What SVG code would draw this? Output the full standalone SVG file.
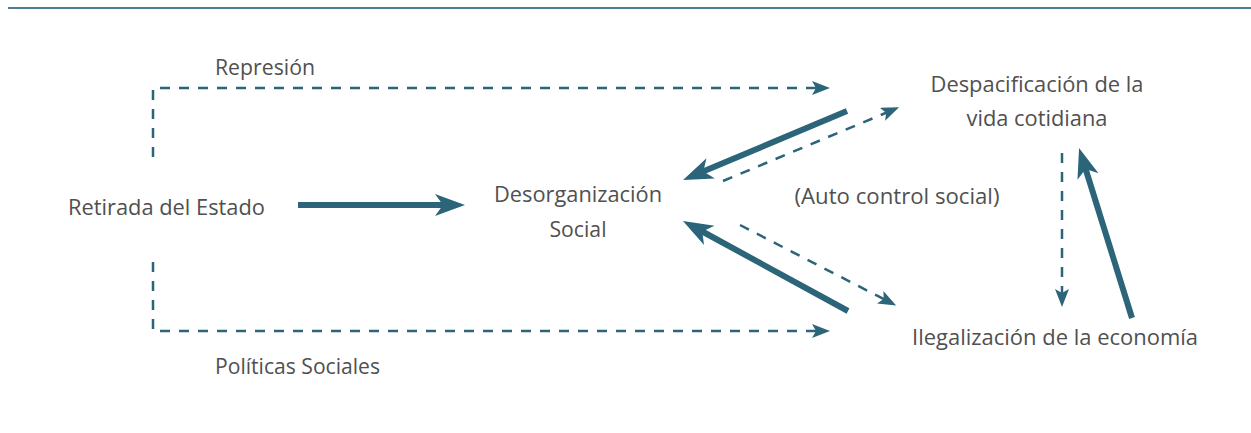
<svg xmlns="http://www.w3.org/2000/svg" width="1251" height="433" viewBox="0 0 1251 433">
<style>
.t{font-family:"Open Sans","Liberation Sans",sans-serif;font-size:21px;fill:#505050}
.m{text-anchor:middle}
.s{stroke:#2c6479;stroke-width:6;fill:none}
.d{stroke:#2c6479;stroke-width:2.5;fill:none;stroke-dasharray:10 9}
</style>
<defs>
<marker id="hs" markerUnits="userSpaceOnUse" markerWidth="32" markerHeight="24" refX="9" refY="11" orient="auto">
<path d="M0,0 L30,11 L0,22 L8,11 z" fill="#2c6479"/>
</marker>
<marker id="hd" markerUnits="userSpaceOnUse" markerWidth="20" markerHeight="14" refX="6" refY="7" orient="auto">
<path d="M0,0 L18,7 L0,14 L4,7 z" fill="#2c6479"/>
</marker>
</defs>
<rect width="1251" height="433" fill="#fff"/>
<line x1="8" y1="8" x2="1251" y2="8" stroke="#4f7d92" stroke-width="2"/>
<g id="connectors">
<path class="d" d="M153,157 V88 H818" marker-end="url(#hd)"/>
<path class="d" d="M153,262 V331 H818" marker-end="url(#hd)"/>
<line class="s" x1="298" y1="205" x2="444" y2="205" marker-end="url(#hs)"/>
<line class="s" x1="847" y1="111" x2="702.4" y2="171.8" marker-end="url(#hs)"/>
<line class="s" x1="848" y1="311" x2="701.4" y2="231" marker-end="url(#hs)"/>
<line class="s" x1="1132" y1="318" x2="1085.3" y2="168" marker-end="url(#hs)"/>
<line class="d" x1="723" y1="181" x2="888" y2="112" marker-end="url(#hd)"/>
<line class="d" x1="740" y1="225" x2="885.5" y2="300" marker-end="url(#hd)"/>
<line class="d" x1="1062" y1="153" x2="1062" y2="295" marker-end="url(#hd)"/>
</g>
<g id="represion"><text class="t" x="215" y="75" textLength="100" lengthAdjust="spacingAndGlyphs">Represión</text></g>
<g id="politicas"><text class="t" x="215" y="374" textLength="165" lengthAdjust="spacingAndGlyphs">Políticas Sociales</text></g>
<g id="retirada"><text class="t" x="68" y="215" textLength="197" lengthAdjust="spacingAndGlyphs">Retirada del Estado</text></g>
<g id="desorganizacion">
<text class="t m" x="578" y="202" textLength="168" lengthAdjust="spacingAndGlyphs">Desorganización</text>
<text class="t m" x="578" y="237" textLength="57" lengthAdjust="spacingAndGlyphs">Social</text>
</g>
<g id="despacificacion">
<text class="t m" x="1037" y="92" textLength="213" lengthAdjust="spacingAndGlyphs">Despacificación de la</text>
<text class="t m" x="1037" y="126" textLength="141" lengthAdjust="spacingAndGlyphs">vida cotidiana</text>
</g>
<g id="autocontrol"><text class="t m" x="897" y="204" textLength="205" lengthAdjust="spacingAndGlyphs">(Auto control social)</text></g>
<g id="ilegalizacion"><text class="t" x="912" y="345" textLength="286" lengthAdjust="spacingAndGlyphs">Ilegalización de la economía</text></g>
</svg>
